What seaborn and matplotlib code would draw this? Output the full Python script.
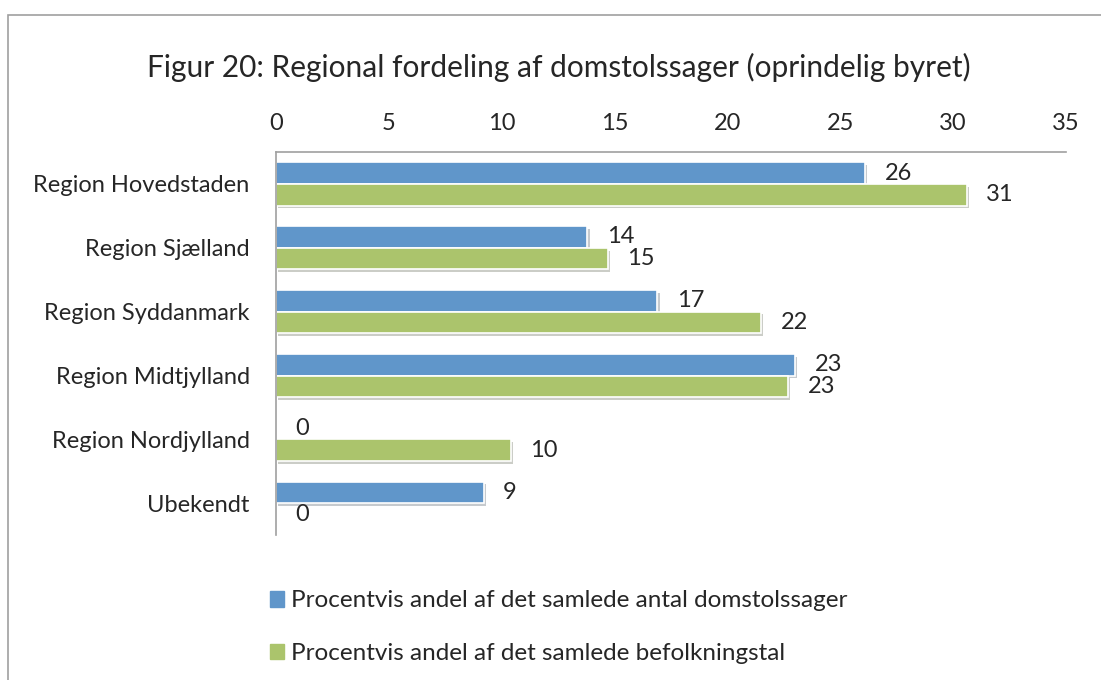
import seaborn as sns
import matplotlib.pyplot as plt
import matplotlib.patheffects as pe
from matplotlib.patches import Rectangle
import pandas as pd

# data
regions = ['Region Hovedstaden', 'Region Sjælland', 'Region Syddanmark',
           'Region Midtjylland', 'Region Nordjylland', 'Ubekendt']
sager = [26.1, 13.8, 16.9, 23.0, 0.0, 9.2]  # domstolssager
befolkning = [30.6, 14.7, 21.5, 22.7, 10.4, 0.0]  # befolkningstal
serie_navne = ['Procentvis andel af det samlede antal domstolssager',
               'Procentvis andel af det samlede befolkningstal']
farver = ['#6096CA', '#ABC46C']
x_ticks = [0, 5, 10, 15, 20, 25, 30, 35]

df = pd.DataFrame({
    'region': regions * 2,
    'værdi': sager + befolkning,
    'serie': [serie_navne[0]] * len(regions) + [serie_navne[1]] * len(regions),
})

sns.set_style('white')
plt.rcParams['font.family'] = ['Lato', 'DejaVu Sans']

fig = plt.figure(figsize=(11.01, 6.8), dpi=100)
ax = fig.add_axes([0.2507, 0.213, 0.7175, 0.5635])

sns.barplot(data=df, y='region', x='værdi', hue='serie', palette=farver,
            orient='h', width=0.68, saturation=1, ax=ax, legend=False,
            edgecolor='white', linewidth=1.2)

for bar in ax.patches:
    bar.set_path_effects([pe.SimplePatchShadow(offset=(1.5, -2), alpha=0.25), pe.Normal()])

for cont in ax.containers:
    ax.bar_label(cont, fmt='{:.0f}', padding=14, fontsize=17)

ax.set_xlim(0, 35)
ax.set_xticks(x_ticks)
ax.xaxis.tick_top()
ax.tick_params(axis='both', length=0, labelsize=17)
ax.tick_params(axis='x', pad=13)
ax.tick_params(axis='y', pad=19)
ax.set_xlabel('')
ax.set_ylabel('')
for side in ['right', 'bottom']:
    ax.spines[side].set_visible(False)
for side in ['top', 'left']:
    ax.spines[side].set_color('#A0A0A0')
    ax.spines[side].set_linewidth(1.2)

fig.suptitle('Figur 20: Regional fordeling af domstolssager (oprindelig byret)',
             x=0.508, y=0.922, fontsize=21.5)

handles = [Rectangle((0, 0), 1, 1, color=c) for c in farver]
fig.legend(handles, serie_navne, loc='upper left', bbox_to_anchor=(0.236, 0.146),
           frameon=False, fontsize=17.5, handlelength=0.6, handleheight=0.6,
           handletextpad=0.3, labelspacing=1.3, borderaxespad=0)

# chart border
fig.patches.append(Rectangle((8 / 1101, -0.01), 1.1, 1 - 15 / 680 + 0.01,
                             transform=fig.transFigure, fill=False,
                             edgecolor='#A0A0A0', linewidth=1.2))

plt.savefig('out.png', dpi=100)
